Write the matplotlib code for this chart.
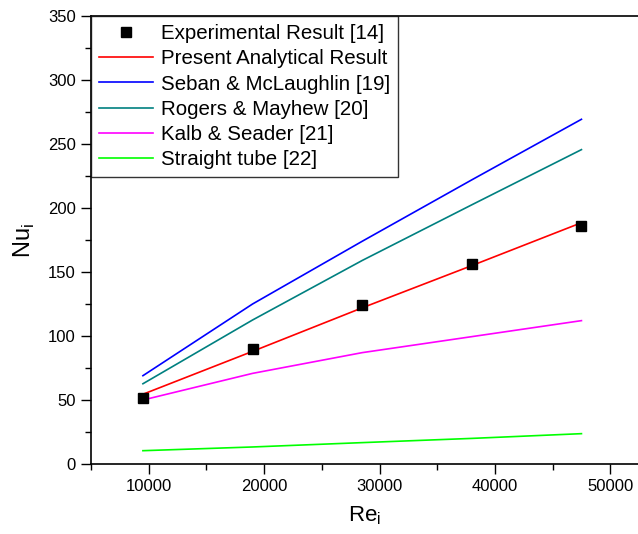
import matplotlib.pyplot as plt
from matplotlib.ticker import MultipleLocator

plt.rcParams['font.family'] = ['Liberation Sans', 'DejaVu Sans']
plt.rcParams['mathtext.fontset'] = 'custom'
plt.rcParams['mathtext.rm'] = 'Liberation Sans'

# Reynolds numbers and Nusselt numbers for each correlation
re_i = [9500, 19000, 28500, 38000, 47500]
experimental = [51.8, 89.8, 124.0, 156.0, 186.2]
present = [54.5, 88.0, 122.0, 155.0, 188.5]
seban = [69.0, 125.0, 174.0, 222.0, 269.3]
rogers = [62.7, 112.5, 159.0, 202.5, 245.6]
kalb = [50.0, 70.8, 87.0, 99.5, 112.0]
straight = [10.4, 13.3, 16.7, 20.0, 23.7]


def plot_nusselt():
    """Plots inner Nusselt number against inner Reynolds number."""
    fig = plt.figure(figsize=(6.38, 5.34), dpi=100)
    ax = fig.add_axes([91 / 638, 70 / 534, 547 / 638, 448 / 534])

    ax.plot(re_i, experimental, linestyle='none', marker='s', markersize=7,
            color='black', label='Experimental Result [14]', zorder=5)
    ax.plot(re_i, present, color='#ff0000', lw=1.2, label='Present Analytical Result')
    ax.plot(re_i, seban, color='#0000ff', lw=1.2, label='Seban & McLaughlin [19]')
    ax.plot(re_i, rogers, color='#008080', lw=1.2, label='Rogers & Mayhew [20]')
    ax.plot(re_i, kalb, color='#ff00ff', lw=1.2, label='Kalb & Seader [21]')
    ax.plot(re_i, straight, color='#00ff00', lw=1.2, label='Straight tube [22]')

    ax.set_xlim(5000, 52400)
    ax.set_ylim(0, 350)
    ax.xaxis.set_major_locator(MultipleLocator(10000))
    ax.xaxis.set_minor_locator(MultipleLocator(5000))
    ax.yaxis.set_major_locator(MultipleLocator(50))
    ax.yaxis.set_minor_locator(MultipleLocator(25))
    ax.tick_params(which='major', direction='out', length=7, width=1,
                   labelsize=12, pad=4)
    ax.tick_params(which='minor', direction='out', length=4, width=1)
    ax.spines['right'].set_visible(False)
    for side in ['left', 'bottom', 'top']:
        ax.spines[side].set_linewidth(1.2)

    ax.set_xlabel(r'Re$_\mathrm{i}$', fontsize=16, labelpad=7)
    ax.set_ylabel(r'Nu$_\mathrm{i}$', fontsize=17, labelpad=8)

    leg = ax.legend(loc='upper left', bbox_to_anchor=(0, 1), borderaxespad=0,
                    fontsize=14.8, frameon=True, fancybox=False, handlelength=2.6,
                    labelspacing=0.3, borderpad=0.4, handletextpad=0.4)
    leg.get_frame().set_edgecolor('black')
    leg.get_frame().set_linewidth(1)

    fig.savefig('out.png', dpi=100)


plot_nusselt()
